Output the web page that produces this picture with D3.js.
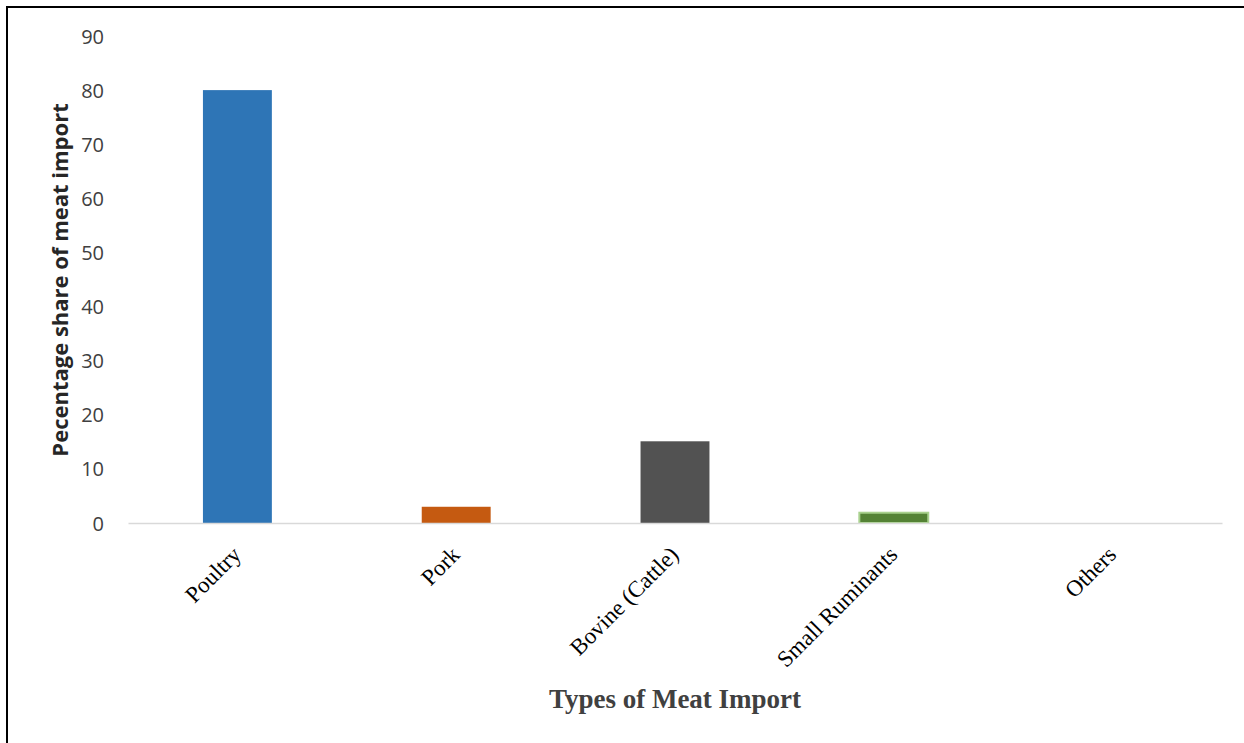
<!DOCTYPE html>
<html><head><meta charset="utf-8">
<script src="https://cdn.jsdelivr.net/npm/d3@7"></script>
<style>body{margin:0;background:#fff}svg{display:block}</style>
</head><body><svg id="c" width="1244" height="743"></svg>
<script>
const categories = ["Poultry","Pork","Bovine (Cattle)","Small Ruminants","Others"];
const values = [80, 3, 15.1, 1.9, 0];
const yTicks = [0,10,20,30,40,50,60,70,80,90];
const colors = ["#2E75B6","#C55A11","#525252","#548235","#A5A5A5"];
const strokes = [null,null,null,"#A9D18E",null];

(function(){
const svg = d3.select("#c");
svg.append("rect").attr("x",7).attr("y",7).attr("width",1300).attr("height",800)
  .attr("fill","#fff").attr("stroke","#000").attr("stroke-width",2);

const pl=128, pr=1222, pt=36, pb=523;
const x = d3.scaleBand().domain(categories).range([pl,pr]).paddingInner(0.685).paddingOuter(0.3425);
const y = d3.scaleLinear().domain([0,90]).range([pb,pt]);

const yAxis = d3.axisLeft(y).tickValues(yTicks).tickSize(0).tickPadding(0);
const gy = svg.append("g").attr("transform",`translate(104,0)`).call(yAxis);
gy.select(".domain").remove();
gy.selectAll("text").attr("font-family","'Open Sans', sans-serif").attr("font-size",20).attr("fill","#404040").attr("dy","0.35em");

svg.selectAll("rect.bar").data(categories).join("rect").attr("class","bar")
  .attr("x",d=>x(d)).attr("width",x.bandwidth())
  .attr("y",(d,i)=>y(values[i])).attr("height",(d,i)=>pb-y(values[i]))
  .attr("fill",(d,i)=>colors[i])
  .attr("stroke",(d,i)=>strokes[i]||"none").attr("stroke-width",2);

const xAxis = d3.axisBottom(x).tickSize(0).tickPadding(0);
const gx = svg.append("g").attr("transform",`translate(0,${pb})`).call(xAxis);
gx.select(".domain").attr("stroke","#D9D9D9").attr("stroke-width",1.5);
gx.selectAll(".tick text")
  .attr("font-family","'Liberation Serif', 'Times New Roman', serif").attr("font-size",23).attr("fill","#000")
  .attr("text-anchor","end").attr("dy",0)
  .attr("transform","translate(5,33) rotate(-45)");

svg.append("text").attr("transform","translate(68,280) rotate(-90)").attr("text-anchor","middle")
  .attr("font-family","'Open Sans', sans-serif").attr("font-weight","bold").attr("font-size",22).attr("fill","#262626")
  .text("Pecentage share of meat import");
svg.append("text").attr("x",675).attr("y",708).attr("text-anchor","middle")
  .attr("font-family","'Liberation Serif', 'Times New Roman', serif").attr("font-weight","bold").attr("font-size",27).attr("fill","#404040")
  .text("Types of Meat Import");
})();
</script></body></html>
